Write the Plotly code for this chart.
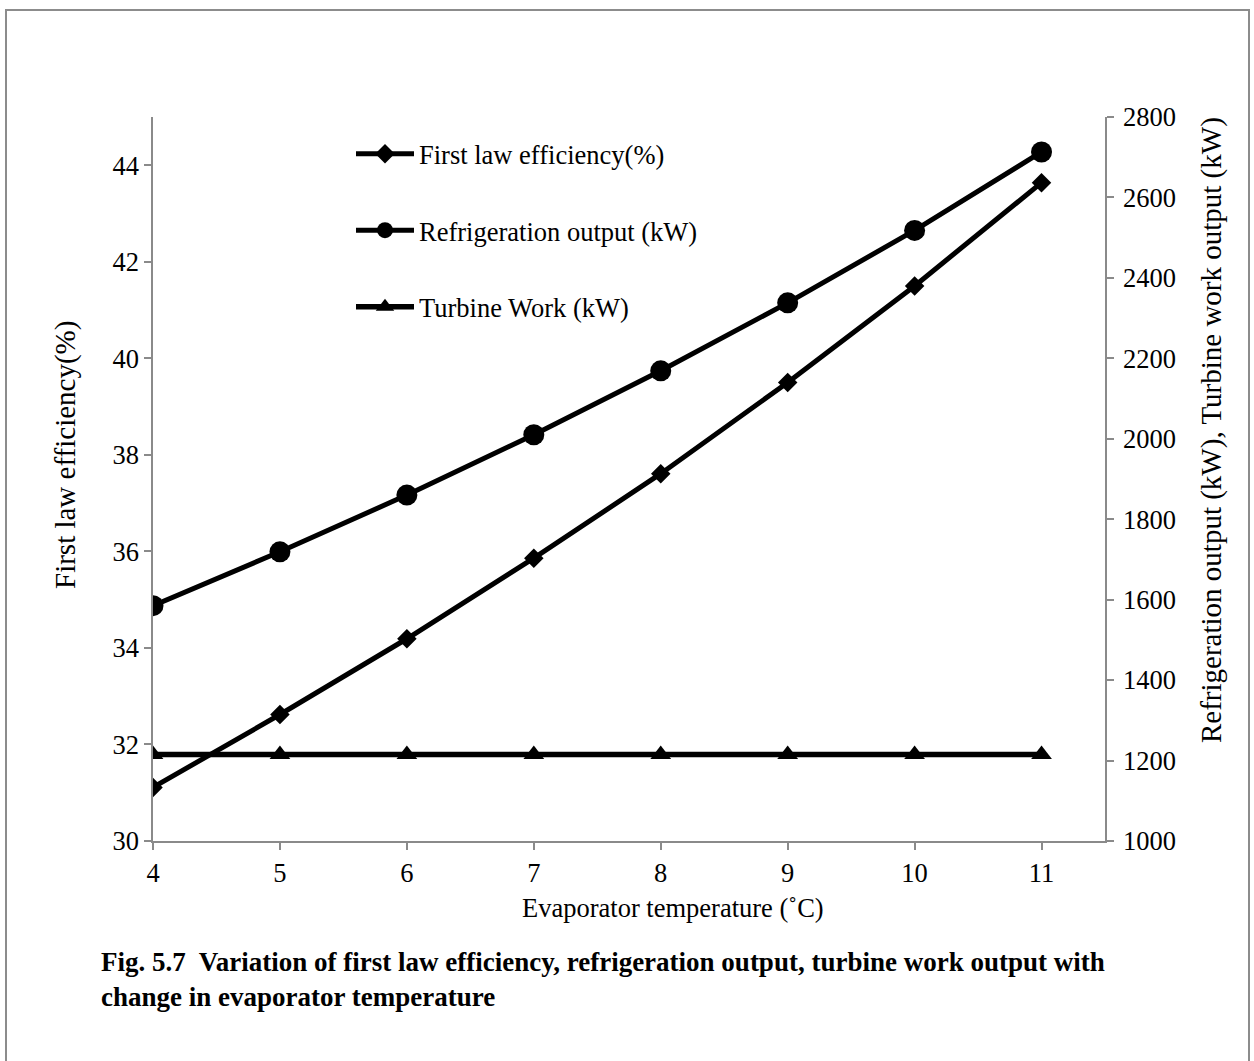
import plotly.graph_objects as go

# Data
evap_temp = [4, 5, 6, 7, 8, 9, 10, 11]
first_law_eff = [31.11, 32.62, 34.19, 35.86, 37.61, 39.50, 41.50, 43.64]
refrigeration_kw = [1585, 1719, 1860, 2010, 2169, 2338, 2518, 2713]
turbine_kw = [1215, 1215, 1215, 1215, 1215, 1215, 1215, 1215]

names = ["First law efficiency(%)", "Refrigeration output (kW)", "Turbine Work (kW)"]
left_ticks = [30, 32, 34, 36, 38, 40, 42, 44]
right_ticks = [1000, 1200, 1400, 1600, 1800, 2000, 2200, 2400, 2600, 2800]

FONT = "Liberation Serif"
AXIS_C = "#8a8a8a"
FS = 26.5
W, H = 1254, 1061
L, R, T, B = 153, 149, 117, 220
pw, ph = W - L - R, H - T - B


def px(x):
    return (x - L) / pw


def py(y):
    return (H - B - y) / ph


fig = go.Figure()
fig.add_trace(go.Scatter(
    x=evap_temp, y=first_law_eff, name=names[0], mode="lines+markers",
    line=dict(color="black", width=5), marker=dict(symbol="diamond", size=15, color="black"),
    legendgroup="a", yaxis="y"))
fig.add_trace(go.Scatter(
    x=evap_temp, y=refrigeration_kw, name=names[1], mode="lines+markers",
    line=dict(color="black", width=5), marker=dict(symbol="circle", size=21, color="black"),
    legendgroup="b", yaxis="y2"))
fig.add_trace(go.Scatter(
    x=evap_temp, y=turbine_kw, name=names[2], mode="lines+markers",
    line=dict(color="black", width=5.5), marker=dict(symbol="triangle-up", size=18, color="black"),
    legendgroup="c", yaxis="y2"))

fig.update_layout(
    width=W, height=H,
    margin=dict(l=L, r=R, t=T, b=B),
    paper_bgcolor="white", plot_bgcolor="white",
    font=dict(family=FONT, size=FS, color="black"),
    showlegend=True,
    legend=dict(x=px(351), y=py(130), xanchor="left", yanchor="top",
                bgcolor="rgba(0,0,0,0)", borderwidth=0,
                font=dict(family=FONT, size=FS, color="black"),
                traceorder="grouped", tracegroupgap=39, itemwidth=58),
    xaxis=dict(range=[4, 11.5], tick0=4, dtick=1, showgrid=False, zeroline=False,
               showline=True, linecolor=AXIS_C, linewidth=1.5,
               ticks="outside", ticklen=7, tickcolor=AXIS_C, tickwidth=1.5,
               tickfont=dict(family=FONT, size=FS, color="black")),
    yaxis=dict(range=[30, 45], tickvals=left_ticks, showgrid=False, zeroline=False,
               showline=True, linecolor=AXIS_C, linewidth=1.5,
               ticks="outside", ticklen=7, tickcolor=AXIS_C, tickwidth=1.5,
               ticklabelstandoff=0,
               tickfont=dict(family=FONT, size=FS, color="black")),
    yaxis2=dict(range=[1000, 2800], tickvals=right_ticks, overlaying="y", side="right",
                showgrid=False, zeroline=False,
                showline=True, linecolor=AXIS_C, linewidth=1.5,
                ticks="outside", ticklen=7, tickcolor=AXIS_C, tickwidth=1.5,
                ticklabelstandoff=4,
                tickfont=dict(family=FONT, size=FS, color="black")),
)

# Axis titles
fig.add_annotation(text="Evaporator temperature (\u02daC)", xref="paper", yref="paper",
                   x=px(673), y=py(908), xanchor="center", yanchor="middle",
                   showarrow=False, font=dict(family=FONT, size=FS, color="black"))
fig.add_annotation(text="First law efficiency(%)", xref="paper", yref="paper",
                   x=px(65), y=py(455), xanchor="center", yanchor="middle", textangle=-90,
                   showarrow=False, font=dict(family=FONT, size=29, color="black"))
fig.add_annotation(text="Refrigeration output (kW), Turbine work output (kW)", xref="paper", yref="paper",
                   x=px(1211), y=py(430), xanchor="center", yanchor="middle", textangle=-90,
                   showarrow=False, font=dict(family=FONT, size=29, color="black"))

# Caption
fig.add_annotation(text="<b>Fig. 5.7  Variation of first law efficiency, refrigeration output, turbine work output with</b>",
                   xref="paper", yref="paper", x=px(99), y=py(962), xanchor="left", yanchor="middle",
                   showarrow=False, font=dict(family=FONT, size=27, color="black"))
fig.add_annotation(text="<b>change in evaporator temperature</b>",
                   xref="paper", yref="paper", x=px(99), y=py(997), xanchor="left", yanchor="middle",
                   showarrow=False, font=dict(family=FONT, size=27, color="black"))

# Outer frame
fig.add_shape(type="rect", xref="paper", yref="paper",
              x0=px(6), x1=px(1249), y0=py(1064), y1=py(10),
              line=dict(color="#8c8c8c", width=2), fillcolor="rgba(0,0,0,0)", layer="below")

fig.write_html("out.html")
